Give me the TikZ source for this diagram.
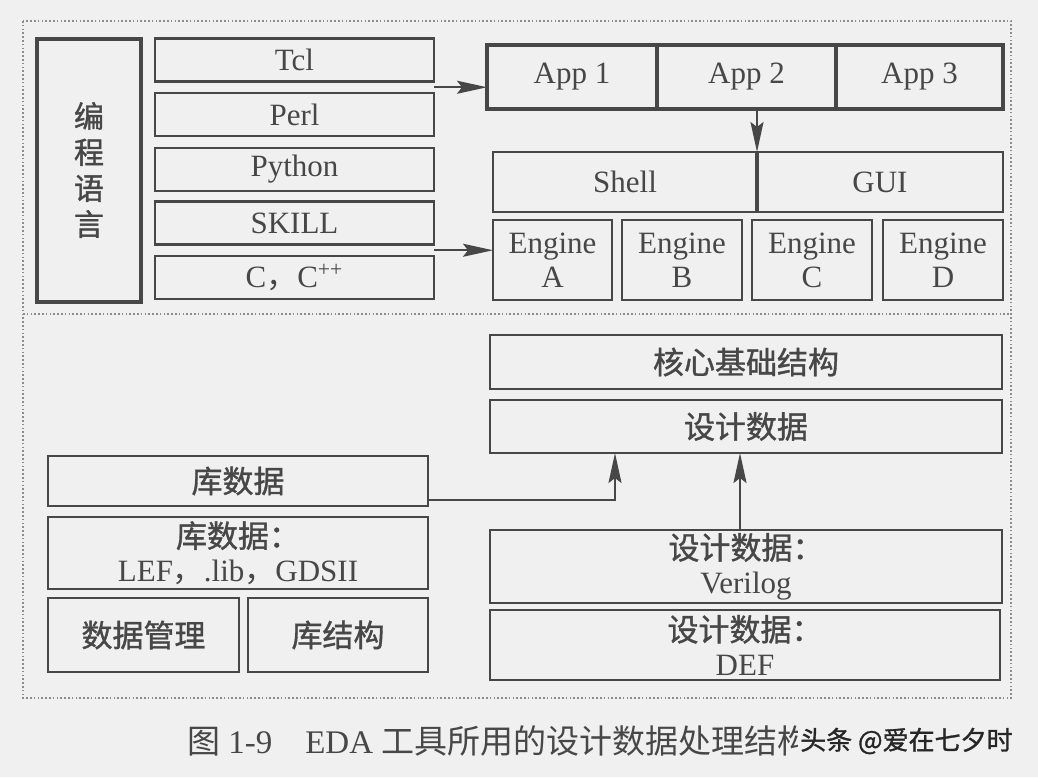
\documentclass[tikz,border=0pt]{standalone}
\usepackage{fontspec}
\usepackage{tikz}
\setmainfont{Liberation Serif}
\newfontfamily\cjk{Noto Sans CJK SC}[FakeBold=1.2]
\newfontfamily\cjkcap{Noto Sans CJK SC}
\usetikzlibrary{arrows.meta,calc}
\definecolor{ink}{HTML}{474747}
\definecolor{paper}{HTML}{F0F0F0}
\definecolor{dots}{HTML}{8C8C8C}

\begin{document}
\begin{tikzpicture}[x=0.5pt, y=-0.5pt,
  box/.style={draw=ink, line width=1.3pt, text=ink, inner sep=0pt, outer sep=0pt, align=center, font=\fontsize{15.5}{17}\selectfont},
  heavy/.style={box, line width=2pt},
  lang/.style={box, minimum width=139.5pt, minimum height=21.5pt},
  app/.style={heavy, minimum height=32pt},
  engine/.style={box, minimum width=60pt, minimum height=40pt},
  wide/.style={box, minimum width=256pt},
  lib/.style={box, minimum width=190pt},
  arr/.style={-{Stealth[length=15pt, width=6.5pt, inset=2.5pt]}, draw=ink, line width=1pt}]
\fill[paper] (0,0) rectangle (1038,777);
\useasboundingbox (0,0) rectangle (1038,777);
\draw[dots, line width=0.9pt, dash pattern=on 0.8pt off 1.1pt] (23,21) rectangle (1011,698);
\draw[dots, line width=0.9pt, dash pattern=on 0.8pt off 1.1pt] (23,314) -- (1011,314);

\node[heavy, minimum width=52pt, minimum height=131.5pt, font=\fontsize{15}{18}\selectfont] (prog) at (89,170) {\cjk 编\\\cjk 程\\\cjk 语\\\cjk 言};
\node[lang] (tcl) at (294.5,60) {Tcl};
\node[lang] (perl) at (294.5,114.5) {Perl};
\node[lang] (python) at (294.5,169.5) {Python};
\node[lang] (skill) at (294.5,223) {SKILL};
\node[lang] (cpp) at (294.5,277.5) {C{\cjkcap ，}C\textsuperscript{++}};

\node[app, minimum width=85pt] (app1) at (572,77) {App 1};
\node[app, minimum width=89.5pt] (app2) at (746.5,77) {App 2};
\node[app, minimum width=83.5pt] (app3) at (919.5,77) {App 3};
\node[box, minimum width=132pt, minimum height=30pt] (shell) at (625,182) {Shell};
\node[box, minimum width=123pt, minimum height=30pt] (gui) at (880,182) {GUI};
\node[engine, minimum width=59.5pt] (engA) at (552.5,260) {Engine\\A};
\node[engine] (engB) at (682,260) {Engine\\B};
\node[engine] (engC) at (812,260) {Engine\\C};
\node[engine] (engD) at (943,260) {Engine\\D};

\node[wide, minimum height=27pt] (core) at (746,362) {\cjk 核心基础结构};
\node[wide, minimum height=26.5pt] (design) at (746,426.5) {\cjk 设计数据};
\node[wide, minimum height=36.5pt] (verilog) at (746,566.5) {{\cjk 设计数据：}\\Verilog};
\node[box, minimum width=255pt, minimum height=35pt] (def) at (745,645) {{\cjk 设计数据：}\\DEF};

\node[lib, minimum height=25pt] (libdata) at (238,481) {\cjk 库数据};
\node[lib, minimum height=36pt] (lef) at (238,553) {{\cjk 库数据：}\\LEF{\cjkcap ，}.lib{\cjkcap ，}GDSII};
\node[box, minimum width=95.5pt, minimum height=37pt] (dm) at (143.5,635) {\cjk 数据管理};
\node[box, minimum width=90pt, minimum height=37pt] (libstruct) at (338,635) {\cjk 库结构};

\coordinate (tclout) at ($(tcl.south east)!.5!(perl.north east)$);
\coordinate (cout) at ($(skill.south east)!.5!(cpp.north east)$);
\draw[arr] (tclout) -- (tclout -| app1.west);
\draw[arr] (cout) -- (cout -| engA.west);
\draw[arr] (app2.south -| shell.east) -- (shell.north east);
\draw[ink, line width=2.2pt] (shell.north east) -- (shell.south east);
\draw[arr] ([yshift=-9.5pt]libdata.east) -| ([xshift=62.5pt]design.south west);
\draw[arr] ([xshift=-3pt]verilog.north) -- ([xshift=-3pt]design.south);

\node[text=ink, anchor=west, font=\fontsize{16.5}{18}\selectfont] (caption) at (180,741) {{\cjkcap 图} 1-9\quad EDA {\cjkcap 工具所用的设计数据处理结构}};
\node[fill=paper, text=black!85, anchor=east, inner sep=1pt, font=\fontsize{13}{15}\selectfont] (mark) at (1015,741) {\cjk 头条 @爱在七夕时};
\end{tikzpicture}
\end{document}
